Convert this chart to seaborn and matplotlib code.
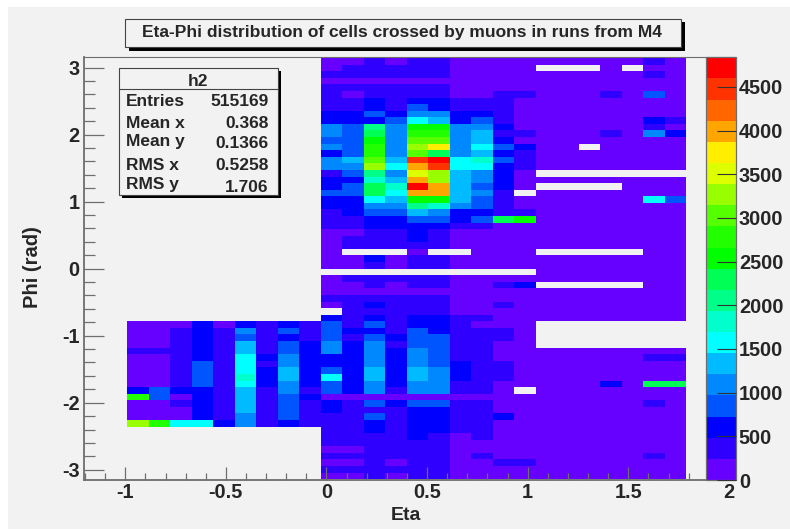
import numpy as np
import pandas as pd
import matplotlib
matplotlib.use("Agg")
import matplotlib.pyplot as plt
import seaborn as sns
from matplotlib.colors import ListedColormap
from matplotlib.patches import Rectangle

# palette levels of the reference, bottom to top
level_colors = ["#6600ff", "#3000ff", "#0000ff", "#0055ff", "#0088ff", "#00bbff", "#00ffff",
                "#00ffcc", "#00ff88", "#00ff55", "#00ff00", "#22ff00", "#55ff00", "#99ff00",
                "#ddff00", "#ffee00", "#ffa500", "#ff6600", "#ff3300", "#ff0000"]
z_max = 4840
z_ticks = [0, 500, 1000, 1500, 2000, 2500, 3000, 3500, 4000, 4500]

# bins: 26 in eta, 64 in phi
eta_first = -0.99
eta_width = 0.1068
phi_top = 3.1416
phi_height = 2 * 3.1416 / 64

# palette level read for each cell, _ = empty bin
_ = -1
# eta < 0 part, only exists for phi rows 40 to 55
levels_neg = [
    [0, 0, 0, 2, 0, 2, 1, 2, 1],
    [0, 0, 1, 2, 1, 4, 1, 3, 1],
    [0, 0, 1, 2, 1, 3, 1, 2, 1],
    [0, 0, 1, 2, 1, 5, 1, 3, 2],
    [1, 1, 1, 2, 1, 5, 1, 3, 2],
    [0, 0, 1, 2, 1, 6, 2, 4, 2],
    [0, 0, 1, 3, 1, 6, 1, 4, 2],
    [0, 0, 1, 3, 1, 6, 2, 5, 2],
    [0, 0, 1, 3, 1, 7, 2, 5, 2],
    [0, 0, 1, 3, 1, 6, 2, 4, 2],
    [2, 3, 2, 2, 1, 5, 1, 4, 1],
    [11, 3, 0, 2, 1, 5, 1, 3, 2],
    [0, 0, 1, 2, 1, 5, 1, 3, 1],
    [0, 0, 0, 2, 1, 5, 1, 3, 1],
    [0, 0, 0, 2, 1, 4, 1, 3, 1],
    [13, 11, 6, 6, 2, 4, 1, 2, 1],
]
# eta > 0 part, all 64 phi rows from the top
levels_pos = [
    [0, 0, 1, 0, 1, 1, 0, 0, 0, 0, 0, 0, 0, 0, 0, 1, 0],
    [0, 1, 1, 1, 1, 1, 0, 0, 0, 0, _, _, _, 0, _, 0, 0],
    [1, 1, 1, 1, 1, 1, 0, 0, 0, 0, 0, 0, 0, 0, 0, 1, 0],
    [0, 0, 0, 0, 0, 0, 0, 0, 0, 0, 0, 0, 0, 0, 0, 0, 0],
    [1, 1, 1, 1, 1, 1, 0, 0, 0, 0, 0, 0, 0, 0, 0, 0, 0],
    [1, 0, 1, 1, 1, 1, 0, 0, 1, 1, 0, 0, 0, 1, 0, 3, 0],
    [1, 1, 2, 1, 2, 2, 1, 1, 1, 0, 0, 0, 0, 0, 0, 0, 0],
    [1, 1, 2, 1, 3, 2, 1, 1, 1, 0, 0, 0, 0, 0, 0, 0, 0],
    [2, 2, 3, 2, 4, 4, 2, 2, 1, 0, 0, 0, 0, 0, 0, 0, 0],
    [2, 2, 2, 3, 6, 5, 2, 3, 1, 0, 0, 0, 0, 0, 0, 2, 1],
    [4, 3, 8, 4, 10, 10, 4, 4, 2, 0, 0, 0, 0, 0, 0, 1, 0],
    [4, 3, 9, 4, 11, 11, 4, 5, 1, 1, 0, 0, 0, 1, 0, 4, 2],
    [3, 3, 10, 4, 12, 12, 4, 5, 2, 0, 0, 0, 0, 0, 0, 0, 0],
    [4, 3, 11, 4, 13, 15, 4, 6, 3, 2, 0, 0, _, 0, 0, 0, 0],
    [2, 3, 11, 4, 12, 9, 4, 5, 2, 1, 0, 0, 0, 0, 0, 0, 0],
    [4, 5, 12, 5, 18, 19, 6, 7, 3, 1, 0, 0, 0, 0, 0, 0, 0],
    [4, 4, 13, 6, 16, 18, 6, 6, 2, 1, 0, 0, 0, 0, 0, 0, 0],
    [1, 3, 8, 4, 14, 13, 5, 4, 2, 0, _, _, _, _, _, _, _],
    [2, 2, 7, 5, 16, 13, 5, 4, 2, 0, 0, 0, 0, 0, 0, 0, 0],
    [2, 3, 9, 7, 19, 16, 5, 3, 2, 0, _, _, _, _, 0, 0, 0],
    [3, 3, 9, 6, 16, 16, 5, 4, 1, _, 0, 0, 0, 0, 0, 0, 0],
    [2, 2, 6, 5, 10, 10, 5, 3, 1, 0, 0, 0, 0, 0, 0, 6, 3],
    [2, 2, 4, 4, 8, 7, 4, 3, 1, 0, 0, 0, 0, 0, 0, 0, 0],
    [1, 2, 3, 3, 5, 4, 2, 2, 1, 1, 0, 0, 0, 0, 0, 0, 0],
    [1, 1, 2, 2, 3, 3, 2, 3, 9, 10, 0, 0, 0, 0, 0, 0, 0],
    [1, 1, 2, 2, 2, 2, 1, 1, 0, 0, 0, 0, 0, 0, 0, 0, 0],
    [0, 0, 1, 1, 2, 1, 0, 0, 0, 0, 0, 0, 0, 0, 0, 0, 0],
    [0, 1, 1, 1, 2, 1, 0, 0, 0, 0, 0, 0, 0, 0, 0, 0, 0],
    [0, 1, 1, 1, 1, 1, 0, 0, 0, 0, 0, 0, 0, 0, 0, 0, 0],
    [0, _, _, _, 0, _, _, 0, 0, 0, _, _, _, _, _, 0, 0],
    [0, 0, 2, 0, 1, 1, 0, 0, 0, 0, 0, 0, 0, 0, 0, 0, 0],
    [0, 0, 1, 0, 1, 1, 0, 0, 0, 0, 0, 0, 0, 0, 0, 0, 0],
    [_, _, _, _, _, _, _, _, _, _, 0, 0, 0, 0, 0, 0, 0],
    [0, 1, 1, 1, 1, 1, 0, 0, 0, 0, 0, 0, 0, 0, 0, 0, 0],
    [0, 0, 1, 0, 1, 1, 0, 0, 1, 2, _, _, _, _, _, 0, 0],
    [0, 0, 0, 0, 0, 0, 0, 0, 0, 0, 0, 0, 0, 0, 0, 0, 0],
    [1, 1, 1, 1, 1, 1, 0, 0, 0, 0, 0, 0, 0, 0, 0, 0, 0],
    [0, 1, 2, 1, 1, 1, 0, 0, 1, 0, 0, 0, 0, 0, 0, 0, 0],
    [_, 1, 1, 1, 1, 1, 0, 0, 0, 0, 0, 0, 0, 0, 0, 0, 0],
    [2, 1, 2, 1, 2, 2, 1, 1, 0, 0, 0, 0, 0, 0, 0, 0, 0],
    [3, 1, 3, 1, 2, 2, 1, 0, 0, 0, _, _, _, _, _, _, _],
    [3, 2, 2, 1, 3, 2, 1, 1, 1, 0, _, _, _, _, _, _, _],
    [3, 1, 3, 2, 3, 3, 1, 1, 1, 0, _, _, _, _, _, _, _],
    [4, 2, 4, 1, 3, 3, 1, 1, 0, 0, _, _, _, _, _, _, _],
    [4, 2, 4, 2, 4, 3, 1, 1, 0, 0, 0, 0, 0, 0, 0, 0, 0],
    [2, 2, 4, 2, 4, 3, 1, 1, 0, 0, 0, 0, 0, 0, 0, 1, 1],
    [2, 2, 4, 2, 4, 3, 2, 1, 1, 0, 0, 0, 0, 0, 0, 0, 0],
    [3, 2, 5, 2, 5, 4, 2, 1, 1, 0, 0, 0, 0, 0, 0, 0, 0],
    [6, 2, 5, 2, 5, 4, 2, 1, 1, 0, 0, 0, 0, 0, 0, 0, 0],
    [3, 2, 4, 2, 4, 4, 1, 1, 0, 0, 0, 0, 0, 2, 0, 9, 9],
    [3, 2, 4, 1, 4, 4, 1, 1, 0, _, 0, 0, 0, 0, 0, 0, 0],
    [0, 0, 0, 0, 0, 0, 0, 0, 0, 0, 0, 0, 0, 0, 0, 0, 0],
    [2, 1, 3, 2, 3, 3, 1, 1, 0, 0, 0, 0, 0, 0, 0, 1, 0],
    [2, 1, 1, 1, 2, 2, 1, 1, 0, 0, 0, 0, 0, 0, 0, 0, 0],
    [1, 1, 3, 1, 2, 2, 1, 1, 2, 0, 0, 0, 0, 0, 0, 0, 0],
    [1, 1, 2, 1, 2, 2, 1, 1, 0, 0, 0, 0, 0, 0, 0, 0, 0],
    [1, 1, 2, 1, 2, 2, 1, 1, 0, 0, 0, 0, 0, 0, 0, 0, 0],
    [1, 1, 1, 1, 2, 1, 0, 1, 0, 0, 0, 0, 0, 0, 0, 0, 0],
    [1, 1, 1, 1, 1, 1, 0, 0, 0, 0, 0, 0, 0, 0, 0, 0, 0],
    [0, 0, 1, 1, 1, 1, 0, 0, 0, 0, 0, 0, 0, 0, 0, 0, 0],
    [1, 1, 1, 1, 1, 1, 0, 1, 0, 0, 0, 0, 0, 0, 0, 1, 0],
    [0, 0, 1, 0, 1, 1, 0, 0, 1, 1, 0, 0, 0, 0, 0, 0, 0],
    [1, 1, 1, 1, 1, 1, 0, 0, 0, 0, 0, 0, 0, 0, 0, 0, 0],
    [0, 0, 1, 0, 1, 1, 0, 0, 0, 0, 0, 0, 0, 0, 0, 0, 0],
]

stat_names = ["Entries", "Mean x", "Mean y", "RMS x", "RMS y"]
stat_values = ["515169", "0.368", "0.1366", "0.5258", "1.706"]

W, H = 790, 529
bg = "#f2f2f2"
axis_grey = "#6e6e6e"

sns.set_style("white")
plt.rcParams["font.family"] = ["Liberation Sans", "DejaVu Sans"]
plt.rcParams["font.weight"] = "bold"


def fx(px):
    return px / W


def fy(py):
    return 1 - py / H


def box(x0, y0, x1, y1, **kw):
    fig.add_artist(Rectangle((fx(x0), fy(y1)), (x1 - x0) / W, (y1 - y0) / H,
                             transform=fig.transFigure, **kw))


# put the two parts into one table and turn levels into counts
left = np.full((64, 9), -1)
left[40:56] = levels_neg
levels = np.hstack([left, np.array(levels_pos)]).astype(float)
levels[levels < 0] = np.nan
level_size = z_max / len(level_colors)
counts = pd.DataFrame((levels + 0.5) * level_size)

fig = plt.figure(figsize=(W / 100, H / 100), dpi=100, facecolor="white")
box(8, 7, W, H, facecolor=bg, edgecolor="none", zorder=-5)

ax = fig.add_axes([fx(84), fy(480), (736 - 84) / W, (480 - 57.3) / H], facecolor=bg)
cax = fig.add_axes([fx(706), fy(480), 30 / W, (480 - 57.3) / H], zorder=2)

sns.heatmap(counts, ax=ax, cbar_ax=cax, cmap=ListedColormap(level_colors), vmin=0, vmax=z_max,
            xticklabels=False, yticklabels=False, cbar_kws={"ticks": z_ticks})


def eta_pos(eta):
    return (np.asarray(eta) - eta_first) / eta_width


def phi_pos(phi):
    return (phi_top - np.asarray(phi)) / phi_height


# heatmap axes count in bins, so ticks get placed through the eta/phi conversion
ax.set_xlim(eta_pos(-1.205), eta_pos(2.035))
ax.set_ylim(phi_pos(-3.153), phi_pos(3.153))

x_major = [-1, -0.5, 0, 0.5, 1, 1.5, 2]
x_minor = [v / 10 for v in range(-12, 21) if v % 5 != 0]
y_major = [-3, -2, -1, 0, 1, 2, 3]
y_minor = [v / 5 for v in range(-15, 16) if v % 5 != 0]

ax.set_xticks(eta_pos(x_major))
ax.set_xticklabels(["-1", "-0.5", "0", "0.5", "1", "1.5", "2"], fontsize=14.3, fontweight="bold")
ax.set_xticks(eta_pos(x_minor), minor=True)
ax.set_yticks(phi_pos(y_major))
ax.set_yticklabels(["-3", "-2", "-1", "0", "1", "2", "3"], fontsize=14.3, fontweight="bold")
ax.set_yticks(phi_pos(y_minor), minor=True)
ax.set_axisbelow(False)
ax.tick_params(axis="x", which="major", direction="in", length=9.4, width=0.9, color=axis_grey,
               pad=2.5, bottom=True, left=False)
ax.tick_params(axis="x", which="minor", direction="in", length=5, width=0.9, color=axis_grey, bottom=True)
ax.tick_params(axis="y", which="major", direction="in", length=14.4, width=0.9, color=axis_grey,
               pad=3, left=True)
ax.tick_params(axis="y", which="minor", direction="in", length=8, width=0.9, color=axis_grey, left=True)
for name, lw in [("left", 1.3), ("bottom", 1.3), ("top", 0.8)]:
    ax.spines[name].set_visible(True)
    ax.spines[name].set_color(axis_grey)
    ax.spines[name].set_linewidth(lw)
ax.spines["right"].set_visible(False)

fig.text(fx(405.5), fy(515), "Eta", ha="center", va="center", fontsize=14)
fig.text(fx(33), fy(267), "Phi (rad)", ha="center", va="center", rotation=90, fontsize=14.5)

cbar = ax.collections[0].colorbar
cbar.outline.set_visible(True)
cbar.outline.set_edgecolor(axis_grey)
cbar.outline.set_linewidth(0.9)
cax.set_axisbelow(False)
cax.tick_params(direction="in", length=13.5, width=0.8, color="#333333", pad=2, right=True,
                labelsize=14.3)
for t in cax.get_yticklabels():
    t.set_fontweight("bold")

# title box with shadow
box(128.5, 22, 685, 51, facecolor="black", edgecolor="none", zorder=4)
box(125, 18.5, 681, 47, facecolor=bg, edgecolor="#444444", linewidth=0.8, zorder=5)
fig.text(fx(402), fy(33), "Eta-Phi distribution of cells crossed by muons in runs from M4",
         ha="center", va="center", fontsize=12.5, zorder=6)

# stats box with shadow
box(122, 71, 280.5, 198, facecolor="black", edgecolor="none", zorder=4)
box(118.5, 68, 277.5, 195, facecolor=bg, edgecolor="#444444", linewidth=0.8, zorder=5)
fig.add_artist(plt.Line2D([fx(118.5), fx(277.5)], [fy(89), fy(89)], color="#444444", lw=0.8,
                          transform=fig.transFigure, zorder=6))
fig.text(fx(198), fy(81), "h2", ha="center", va="center", fontsize=12.5, zorder=6)
name_rows = [101.7, 123, 141.7, 165.7, 185]
value_rows = [101.7, 123, 144, 165.7, 187]
for name, value, yn, yv in zip(stat_names, stat_values, name_rows, value_rows):
    fig.text(fx(125.7), fy(yn), name, ha="left", va="center", fontsize=12.5, zorder=6)
    fig.text(fx(268.7), fy(yv), value, ha="right", va="center", fontsize=12.5, zorder=6)

fig.savefig("out.png", dpi=100, facecolor=fig.get_facecolor())
